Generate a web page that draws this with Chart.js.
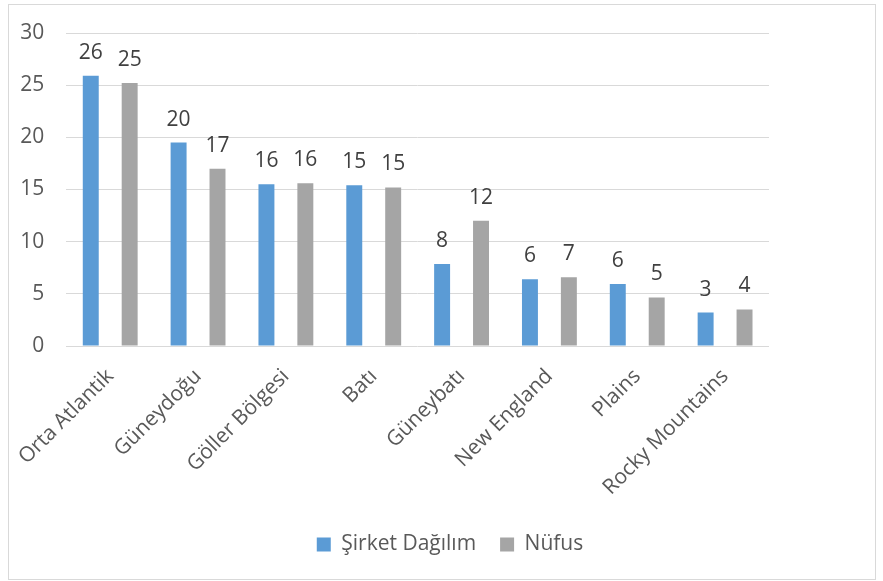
<!DOCTYPE html>
<html>
<head>
<meta charset="utf-8">
<script src="https://cdn.jsdelivr.net/npm/chart.js@4"></script>
<style>
  html, body { margin: 0; padding: 0; background: #fff; }
  #frame { position: absolute; left: 8px; top: 4px; width: 866px; height: 574px; border: 1px solid #d9d9d9; }
  canvas { display: block; }
</style>
</head>
<body>
<div id="frame"><canvas id="chart" width="866" height="574"></canvas></div>
<script>
  // regions and the two series
  const regions = ['Orta Atlantik', 'Güneydoğu', 'Göller Bölgesi', 'Batı', 'Güneybatı', 'New England', 'Plains', 'Rocky Mountains'];
  const sirket = [25.9, 19.5, 15.5, 15.4, 7.85, 6.4, 5.95, 3.2];
  const nufus  = [25.2, 17.0, 15.6, 15.2, 12.0, 6.6, 4.65, 3.5];
  const yTicks = [0, 5, 10, 15, 20, 25, 30];

  const BLUE = '#5B9BD5', GRAY = '#A5A5A5', TXT = '#595959', GRID = '#D9D9D9';
  const FONT = '"Open Sans", sans-serif';
  const FS = 21;

  // value labels above each bar (rounded like the source)
  const valueLabels = {
    id: 'valueLabels',
    afterLayout(c) {
      // nudge the legend a little right, like the original
      c.legend.left += 8; c.legend.right += 8;
    },
    afterDatasetsDraw(c) {
      const ctx = c.ctx;
      ctx.save();
      ctx.font = FS + 'px ' + FONT;
      ctx.fillStyle = '#404040';
      ctx.textAlign = 'center';
      ctx.textBaseline = 'alphabetic';
      c.data.datasets.forEach((ds, i) => {
        c.getDatasetMeta(i).data.forEach((bar, j) => {
          ctx.fillText(String(Math.round(ds.data[j])), bar.x, bar.y - 17);
        });
      });
      ctx.restore();
    }
  };

  new Chart(document.getElementById('chart'), {
    type: 'bar',
    data: {
      labels: regions,
      datasets: [
        { label: 'Şirket Dağılım', data: sirket, backgroundColor: BLUE, categoryPercentage: 0.886, barPercentage: 0.41 },
        { label: 'Nüfus', data: nufus, backgroundColor: GRAY, categoryPercentage: 0.886, barPercentage: 0.41 }
      ]
    },
    options: {
      responsive: false, animation: false,
      layout: { padding: { left: 0, right: 0, top: 28, bottom: 14 } },
      scales: {
        x: {
          grid: { display: false }, border: { display: false },
          ticks: { color: TXT, font: { family: FONT, size: FS }, maxRotation: 45, minRotation: 45, padding: 10 },
          afterFit(s) { s.height = 164; }
        },
        y: {
          min: 0, max: 30,
          grid: { color: GRID, lineWidth: 1, tickColor: 'rgba(0,0,0,0)' }, border: { display: false },
          afterBuildTicks(s) { s.ticks = yTicks.map(v => ({ value: v })); },
          ticks: { color: TXT, font: { family: FONT, size: FS }, padding: 14 },
          afterFit(s) { s.width = 57; }
        },
        // empty right margin, so the legend centres on the whole frame
        yr: {
          position: 'right', grid: { display: false }, border: { display: false },
          ticks: { display: false },
          afterFit(s) { s.width = 106; }
        }
      },
      plugins: {
        legend: {
          position: 'bottom',
          labels: { color: TXT, font: { family: FONT, size: FS }, boxWidth: 14, boxHeight: 14, padding: 24 }
        },
        tooltip: { enabled: false }
      }
    },
    plugins: [valueLabels]
  });
</script>
</body>
</html>
